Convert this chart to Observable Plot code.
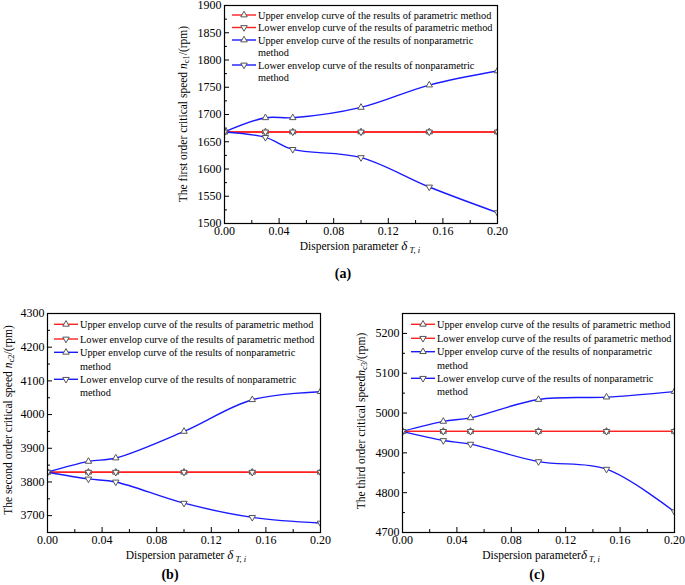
<!DOCTYPE html>
<html><head><meta charset="utf-8">
<script src="https://cdn.jsdelivr.net/npm/d3@7"></script>
<script src="https://cdn.jsdelivr.net/npm/@observablehq/plot@0.6"></script>
<style>
body{margin:0;background:#fff;}
#wrap{position:relative;width:685px;height:585px;overflow:hidden;background:#fff;}
.panel{position:absolute;}
</style></head><body><div id="wrap"></div>
<script>
// ---------- data ----------
const dispersion = [0, 0.03, 0.05, 0.10, 0.15, 0.20];
const xMajorTicks = [0, 0.04, 0.08, 0.12, 0.16, 0.20];
const xMinorTicks = [0.02, 0.06, 0.10, 0.14, 0.18];

const seriesLegend = [
  ["Upper envelop curve of the results of parametric method"],
  ["Lower envelop curve of the results of parametric method"],
  ["Upper envelop curve of the results of nonparametric", "method"],
  ["Lower envelop curve of the results of nonparametric", "method"]
];
const seriesColors = ["#ff2020", "#ff2020", "#1a1aff", "#1a1aff"];
const seriesDown = [false, true, false, true];

// panel (a): first order critical speed
const aParamUpper = [1668, 1668, 1668, 1668, 1668, 1668];
const aParamLower = [1668, 1668, 1668, 1668, 1668, 1668];
const aNonUpper   = [1668, 1694, 1694, 1713, 1754, 1780];
const aNonLower   = [1668, 1658, 1636, 1621, 1567, 1520];
const aYTicks = [1500, 1550, 1600, 1650, 1700, 1750, 1800, 1850, 1900];
const aYMinor = [1525, 1575, 1625, 1675, 1725, 1775, 1825, 1875];

// panel (b): second order critical speed
const bParamUpper = [3829, 3829, 3829, 3829, 3829, 3829];
const bParamLower = [3829, 3829, 3829, 3829, 3829, 3829];
const bNonUpper   = [3829, 3861, 3871, 3950, 4044, 4068];
const bNonLower   = [3829, 3809, 3800, 3737, 3695, 3678];
const bYTicks = [3700, 3800, 3900, 4000, 4100, 4200, 4300];
const bYMinor = [3650, 3750, 3850, 3950, 4050, 4150, 4250];

// panel (c): third order critical speed
const cParamUpper = [4954, 4954, 4954, 4954, 4954, 4954];
const cParamLower = [4954, 4954, 4954, 4954, 4954, 4954];
const cNonUpper   = [4954, 4979, 4988, 5034, 5040, 5054];
const cNonLower   = [4954, 4931, 4922, 4878, 4859, 4752];
const cYTicks = [4700, 4800, 4900, 5000, 5100, 5200];
const cYMinor = [4750, 4850, 4950, 5050, 5150, 5250];

// ---------- drawing ----------
const FONT = '"Liberation Serif","Times New Roman",serif';
const MR = 2.4;
const triDown = {
  draw(ctx, size) {
    const y = -Math.sqrt(size / (Math.sqrt(3) * 3));
    ctx.moveTo(0, -y * 2);
    ctx.lineTo(-Math.sqrt(3) * y, y);
    ctx.lineTo(Math.sqrt(3) * y, y);
    ctx.closePath();
  }
};

function makePanel(cfg) {
  const series = cfg.series;
  const fw = cfg.width - cfg.ml - cfg.mr;
  const fh = cfg.height - cfg.mt - cfg.mb;
  const marks = [
    Plot.axisX({ticks: xMajorTicks, tickSize: 0, tickPadding: 3, tickFormat: d3.format(".2f"), label: null, fontSize: 12}),
    Plot.axisY({ticks: cfg.yTicks, tickSize: 0, tickPadding: 3, tickFormat: d => String(d), label: null, fontSize: 12}),
    Plot.tickX(xMajorTicks, {x: d => d, insetTop: fh - 5, stroke: "#000", strokeWidth: 1}),
    Plot.tickX(xMinorTicks, {x: d => d, insetTop: fh - 3, stroke: "#000", strokeWidth: 1}),
    Plot.tickY(cfg.yTicks, {y: d => d, insetRight: fw - 5, stroke: "#000", strokeWidth: 1}),
    Plot.tickY(cfg.yMinor, {y: d => d, insetRight: fw - 3, stroke: "#000", strokeWidth: 1})
  ];
  series.forEach((vals, si) => {
    const pts = vals.map((v, i) => ({x: dispersion[i], y: v}));
    marks.push(Plot.line(pts, {x: "x", y: "y", stroke: seriesColors[si], strokeWidth: 1.4, curve: "catmull-rom", clip: true}));
  });
  series.forEach((vals, si) => {
    const pts = vals.map((v, i) => ({x: dispersion[i], y: v}));
    marks.push(Plot.dot(pts, {x: "x", y: "y", r: MR, symbol: seriesDown[si] ? triDown : "triangle", fill: "white", stroke: "#555", strokeWidth: 1, clip: true}));
  });
  marks.push(Plot.frame({stroke: "#000", strokeWidth: 1.2}));

  const svg = Plot.plot({
    width: cfg.width, height: cfg.height,
    marginLeft: cfg.ml, marginRight: cfg.mr, marginTop: cfg.mt, marginBottom: cfg.mb,
    style: {fontFamily: FONT, fontSize: "12px", color: "#000", background: "transparent", overflow: "visible"},
    x: {domain: [0, 0.2]},
    y: {domain: cfg.yDomain},
    marks
  });

  const s = d3.select(svg);
  // y label
  const yl = s.append("text")
    .attr("transform", `translate(${cfg.yLabel[0]},${cfg.yLabel[1]}) rotate(-90)`)
    .attr("text-anchor", "middle").attr("dy", "0.35em")
    .attr("font-family", FONT).attr("font-size", 11.5).attr("fill", "#000");
  yl.append("tspan").text(cfg.yText);
  yl.append("tspan").attr("font-style", "italic").text("n");
  yl.append("tspan").attr("font-size", 8.5).attr("baseline-shift", "-20%").text(cfg.ySub);
  yl.append("tspan").text("/(rpm)");
  // x label
  const xl = s.append("text")
    .attr("x", cfg.xLabel[0]).attr("y", cfg.xLabel[1])
    .attr("text-anchor", "middle")
    .attr("font-family", FONT).attr("font-size", 11.5).attr("fill", "#000");
  xl.append("tspan").text(cfg.xText);
  xl.append("tspan").attr("font-style", "italic").attr("font-size", 13).text("δ");
  xl.append("tspan").attr("font-style", "italic").attr("font-size", 8.5).attr("baseline-shift", "-30%").text(" T, i");
  // panel label
  s.append("text").attr("x", cfg.tag[0]).attr("y", cfg.tag[1]).attr("text-anchor", "middle")
    .attr("font-family", FONT).attr("font-size", 14).attr("font-weight", "bold").text(cfg.tagText);
  // legend
  const lg = s.append("g").attr("font-family", FONT).attr("font-size", cfg.legFont).attr("text-anchor", "start");
  let row = 0;
  seriesLegend.forEach((lines, si) => {
    const y = cfg.legRows[row];
    lg.append("line").attr("x1", cfg.legLine[0]).attr("x2", cfg.legLine[1]).attr("y1", y).attr("y2", y)
      .attr("stroke", seriesColors[si]).attr("stroke-width", 1.4);
    const sym = d3.symbol(seriesDown[si] ? triDown : d3.symbolTriangle, Math.PI * MR * MR);
    lg.append("path").attr("d", sym()).attr("transform", `translate(${(cfg.legLine[0] + cfg.legLine[1]) / 2},${y})`)
      .attr("fill", "white").attr("stroke", "#555");
    lines.forEach(t => {
      lg.append("text").attr("x", cfg.legText).attr("y", cfg.legRows[row]).attr("dy", "0.35em")
        .attr("text-anchor", "start").attr("fill", "#000").text(t);
      row++;
    });
  });

  const div = document.createElement("div");
  div.className = "panel";
  div.style.left = cfg.left + "px";
  div.style.top = cfg.top + "px";
  div.appendChild(svg);
  document.getElementById("wrap").appendChild(div);
}

makePanel({
  left: 130, top: 0, width: 390, height: 290, ml: 94, mr: 23, mt: 5, mb: 67,
  series: [aParamUpper, aParamLower, aNonUpper, aNonLower],
  yDomain: [1500, 1900], yTicks: aYTicks, yMinor: aYMinor,
  yText: "The first order critical speed ", ySub: "c1", yLabel: [53, 114],
  xText: "Dispersion parameter ", xLabel: [230, 250],
  tagText: "(a)", tag: [213, 278],
  legFont: 10.3, legLine: [102, 126], legText: 128, legRows: [15, 27.5, 40, 52.5, 65, 77.5]
});
makePanel({
  left: 0, top: 290, width: 340, height: 295, ml: 47, mr: 20, mt: 23, mb: 53,
  series: [bParamUpper, bParamLower, bNonUpper, bNonLower],
  yDomain: [3650, 4300], yTicks: bYTicks, yMinor: bYMinor,
  yText: "The second order critical speed ", ySub: "c2", yLabel: [8, 130],
  xText: "Dispersion parameter ", xLabel: [186, 269],
  tagText: "(b)", tag: [170, 289],
  legFont: 10.3, legLine: [54, 78], legText: 80, legRows: [34.3, 49, 62.3, 76, 89.3, 102.3]
});
makePanel({
  left: 345, top: 290, width: 340, height: 295, ml: 57, mr: 11, mt: 23, mb: 53,
  series: [cParamUpper, cParamLower, cNonUpper, cNonLower],
  yDomain: [4700, 5250], yTicks: cYTicks, yMinor: cYMinor,
  yText: "The third order critical speed", ySub: "c3", yLabel: [16, 131],
  xText: "Dispersion parameter", xLabel: [196, 269],
  tagText: "(c)", tag: [192, 289],
  legFont: 10.3, legLine: [66, 90], legText: 92, legRows: [34.3, 48.3, 61.7, 75, 88.3, 101.7]
});
</script>
</body></html>
